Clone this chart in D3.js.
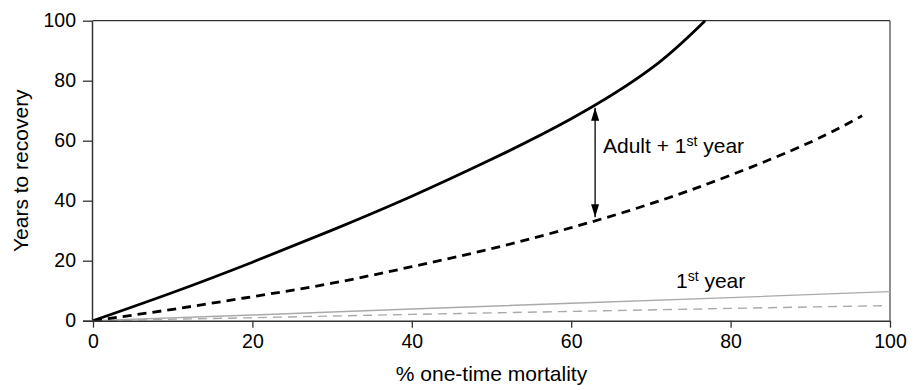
<!DOCTYPE html>
<html><head><meta charset="utf-8">
<script src="https://cdn.jsdelivr.net/npm/d3@7"></script>
<style>
body{margin:0;background:#fff;}
text{font-family:"Liberation Sans",Arial,Helvetica,sans-serif;fill:#000;}
</style></head>
<body><svg id="c" width="921" height="390"></svg>
<script>
// Data (x = % one-time mortality, y = years to recovery)
const adultFirstX = [0, 10, 20, 30, 40, 50, 60, 70, 76.8];
const adultFirstY = [0, 9.4, 19.5, 30.2, 41.5, 53.8, 67.3, 84, 100];
const adultFirstDashX = [0, 10, 20, 30, 40, 50, 60, 70, 80, 90, 96.5];
const adultFirstDashY = [0, 3.8, 8, 12.5, 18, 24, 31, 39, 48.5, 59.5, 68.3];
const firstYearX = [0, 20, 40, 60, 80, 100];
const firstYearY = [0, 1.9, 3.9, 5.8, 7.7, 9.7];
const firstYearDashX = [0, 20, 40, 60, 80, 99];
const firstYearDashY = [0, 1, 2.1, 3.1, 4.1, 5];
const xTicks = [0, 20, 40, 60, 80, 100];
const yTicks = [0, 20, 40, 60, 80, 100];
const arrowX = 63, arrowTop = 71, arrowBottom = 34.5;

const svg = d3.select("#c");
const x = d3.scaleLinear().domain([0, 100]).range([93, 890]);
const y = d3.scaleLinear().domain([0, 100]).range([320.7, 20.7]);

const defs = svg.append("defs");
defs.append("marker").attr("id","ah").attr("viewBox","0 0 13 8").attr("refX",13).attr("refY",4)
  .attr("markerWidth",13).attr("markerHeight",8).attr("orient","auto-start-reverse")
  .attr("markerUnits","userSpaceOnUse")
  .append("path").attr("d","M0,0 L13,4 L0,8 z").attr("fill","#000");

defs.append("clipPath").attr("id","clip").append("rect")
  .attr("x", x(0)).attr("y", y(100)-2).attr("width", x(100)-x(0)).attr("height", y(0)-y(100)+2);

// frame top/right
svg.append("line").attr("x1",x(0)).attr("x2",x(100)).attr("y1",y(100)).attr("y2",y(100)).attr("stroke","#000").attr("stroke-width",1);
svg.append("line").attr("x1",x(100)).attr("x2",x(100)).attr("y1",y(100)).attr("y2",y(0)).attr("stroke","#444").attr("stroke-width",1.2);

const line = d3.line().x(d=>x(d[0])).y(d=>y(d[1])).curve(d3.curveNatural);
const zip = (a,b)=>a.map((v,i)=>[v,b[i]]);
const g = svg.append("g").attr("clip-path","url(#clip)");

g.append("path").attr("d", line(zip(firstYearX, firstYearY))).attr("fill","none").attr("stroke","#aaa").attr("stroke-width",1.4);
g.append("path").attr("d", line(zip(firstYearDashX, firstYearDashY))).attr("fill","none").attr("stroke","#aaa").attr("stroke-width",1.4).attr("stroke-dasharray","9,6");
g.append("path").attr("d", line(zip(adultFirstDashX, adultFirstDashY))).attr("fill","none").attr("stroke","#000").attr("stroke-width",2.8).attr("stroke-dasharray","9,6");
g.append("path").attr("d", line(zip(adultFirstX, adultFirstY))).attr("fill","none").attr("stroke","#000").attr("stroke-width",2.8);

// axes
const xa = svg.append("g").attr("transform",`translate(0,${y(0)})`)
  .call(d3.axisBottom(x).tickValues(xTicks).tickSize(7).tickPadding(6).tickFormat(d3.format("d")));
const ya = svg.append("g").attr("transform",`translate(${x(0)},0)`)
  .call(d3.axisLeft(y).tickValues(yTicks).tickSize(10).tickPadding(7).tickFormat(d3.format("d")));
[xa, ya].forEach(a=>{
  a.select(".domain").attr("stroke","#333").attr("stroke-width",1.5);
  a.selectAll(".tick line").attr("stroke","#333").attr("stroke-width",1.3);
  a.selectAll(".tick text").attr("font-size",19.5).attr("font-family","Liberation Sans, Arial, sans-serif").attr("fill","#000");
});
xa.select(".domain").attr("d", `M${x(0)-10},0.5H${x(100)}`);
ya.select(".domain").attr("d", `M-0.5,${y(100)}V${y(0)}`);

// axis titles
svg.append("text").attr("x", (x(0)+x(100))/2 - 0).attr("y", 381).attr("text-anchor","middle").attr("font-size",21).text("% one-time mortality");
svg.append("text").attr("transform",`translate(28,${(y(0)+y(100))/2}) rotate(-90)`).attr("text-anchor","middle").attr("font-size",21).text("Years to recovery");

// arrow annotation
svg.append("line").attr("x1",x(arrowX)).attr("x2",x(arrowX)).attr("y1",y(arrowBottom)).attr("y2",y(arrowTop))
  .attr("stroke","#000").attr("stroke-width",1.3).attr("marker-start","url(#ah)").attr("marker-end","url(#ah)");

const t1 = svg.append("text").attr("x", 603).attr("y", 153).attr("font-size",21);
t1.append("tspan").text("Adult + 1");
t1.append("tspan").attr("font-size",14).attr("dy",-7).text("st");
t1.append("tspan").attr("dy",7).text(" year");

const t2 = svg.append("text").attr("x", 676).attr("y", 288).attr("font-size",21);
t2.append("tspan").text("1");
t2.append("tspan").attr("font-size",14).attr("dy",-7).text("st");
t2.append("tspan").attr("dy",7).text(" year");
</script></body></html>
